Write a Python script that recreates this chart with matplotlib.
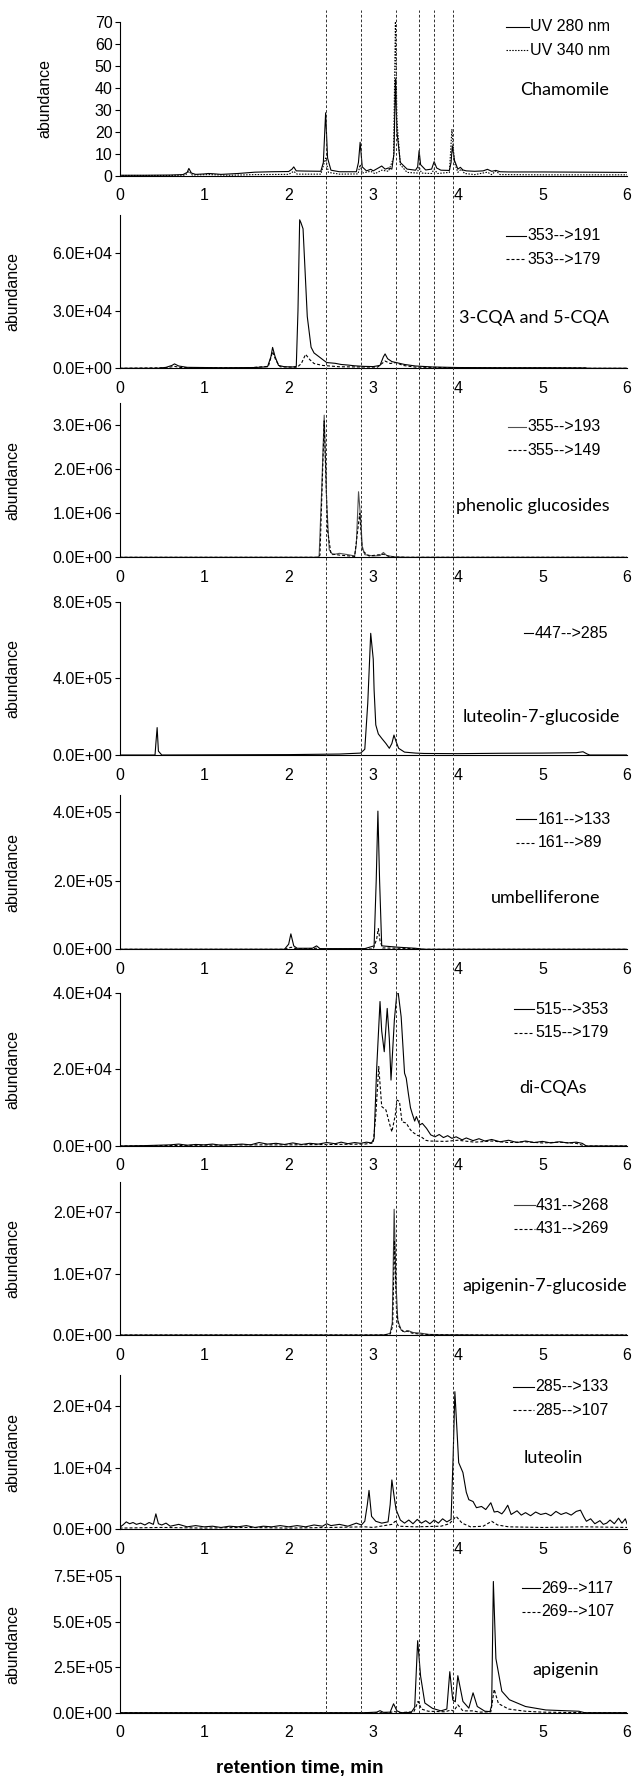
import matplotlib
matplotlib.use("Agg")
import matplotlib.pyplot as plt
from matplotlib.ticker import FuncFormatter

plt.rcParams["font.family"] = ["Liberation Sans", "DejaVu Sans"]
plt.rcParams["font.size"] = 11.5

# retention times of the marker lines (min)
marker_times = [2.437, 2.851, 3.265, 3.544, 3.717, 3.939]

# (retention time, abundance)
uv280 = [(0, 0.2), (0.3, 0.2), (0.6, 0.3), (0.75, 0.5), (0.8, 1.5), (0.82, 3.3), (0.85, 1.2),
         (0.9, 0.6), (1.0, 0.8), (1.05, 1.0), (1.1, 0.9), (1.2, 0.6), (1.4, 1.0), (1.6, 1.6),
         (1.8, 1.8), (2.0, 1.9), (2.04, 3.0), (2.06, 4.0), (2.09, 2.2), (2.2, 2.1), (2.38, 2.0),
         (2.41, 6), (2.437, 28.6), (2.46, 8), (2.5, 2.5), (2.6, 1.8), (2.8, 1.8), (2.825, 6),
         (2.845, 15.2), (2.87, 4), (2.92, 2.2), (2.97, 2.9), (3.0, 2.2), (3.06, 3.5), (3.1, 4.4),
         (3.14, 3.0), (3.18, 3.5), (3.22, 3.0), (3.245, 10), (3.262, 44), (3.28, 20), (3.32, 6),
         (3.4, 3.0), (3.5, 2.5), (3.525, 4), (3.542, 11.4), (3.56, 5), (3.62, 2.6), (3.69, 3),
         (3.72, 6.4), (3.75, 3.5), (3.8, 2.5), (3.9, 2.4), (3.92, 6), (3.935, 13.6), (3.96, 7),
         (4.0, 3), (4.03, 3.8), (4.06, 2.6), (4.1, 2.2), (4.2, 2.0), (4.3, 2.2), (4.35, 2.9),
         (4.4, 2.0), (4.45, 2.4), (4.5, 1.8), (4.6, 1.7), (5.0, 1.7), (5.5, 1.6), (6.0, 1.5)]
uv340 = [(0, 0.1), (0.6, 0.1), (0.78, 0.3), (0.82, 2.0), (0.86, 0.3), (1.05, 0.5), (1.3, 0.2),
         (1.6, 0.5), (2.0, 0.6), (2.06, 2.0), (2.1, 0.7), (2.38, 0.7), (2.437, 8), (2.47, 1.5),
         (2.6, 0.7), (2.82, 0.8), (2.845, 5), (2.87, 1.2), (2.97, 2.0), (3.02, 0.9), (3.1, 2.5),
         (3.18, 2.0), (3.24, 8), (3.262, 70), (3.28, 25), (3.32, 5), (3.4, 1.5), (3.52, 1.2),
         (3.542, 4), (3.57, 1.2), (3.69, 1.0), (3.72, 3.0), (3.76, 1.0), (3.9, 1.5), (3.93, 21),
         (3.96, 6), (4.0, 1.5), (4.04, 3), (4.08, 1.0), (4.2, 0.5), (4.35, 1.6), (4.4, 0.5),
         (4.45, 2.2), (4.5, 0.5), (5.0, 0.4), (6.0, 0.4)]

cqa_191 = [(0, 0), (0.45, 0), (0.55, 500), (0.62, 1500), (0.65, 2300), (0.7, 1200), (0.8, 500),
           (1.2, 300), (1.6, 400), (1.75, 800), (1.79, 6000), (1.81, 10900), (1.84, 6000),
           (1.88, 1500), (1.95, 800), (2.05, 700), (2.09, 1000), (2.11, 30000), (2.13, 77500),
           (2.145, 76000), (2.17, 72800), (2.22, 27000), (2.265, 11000), (2.3, 8000), (2.36, 6000),
           (2.41, 4300), (2.45, 3000), (2.55, 2600), (2.62, 2000), (2.7, 1700), (2.78, 1300),
           (2.89, 1000), (3.0, 900), (3.08, 1500), (3.12, 6000), (3.14, 7500), (3.17, 5000),
           (3.22, 3500), (3.27, 3000), (3.37, 2000), (3.5, 1200), (3.7, 700), (4.0, 400),
           (4.5, 300), (5.0, 300), (5.5, 200), (5.55, 0), (6, 0)]
cqa_179 = [(0, 0), (0.55, 300), (0.65, 1000), (0.72, 400), (1.5, 200), (1.76, 1000), (1.81, 8700),
           (1.85, 4000), (1.9, 800), (2.1, 500), (2.15, 2500), (2.2, 7300), (2.25, 4500),
           (2.3, 2500), (2.4, 1500), (2.6, 800), (3.05, 600), (3.14, 3800), (3.2, 2500),
           (3.27, 3000), (3.35, 1500), (3.5, 600), (4.0, 300), (5.5, 200), (5.55, 0), (6, 0)]

glc_193 = [(0, 0), (2.33, 0), (2.36, 20000), (2.39, 1500000), (2.42, 3230000), (2.45, 1200000),
           (2.48, 170000), (2.52, 60000), (2.6, 90000), (2.7, 60000), (2.78, 30000),
           (2.8, 300000), (2.826, 1490000), (2.85, 900000), (2.87, 250000), (2.9, 60000),
           (3.0, 30000), (3.08, 40000), (3.12, 110000), (3.16, 40000), (3.25, 10000), (3.4, 0),
           (6, 0)]
glc_149 = [(0, 0), (2.34, 0), (2.37, 50000), (2.42, 3100000), (2.46, 600000), (2.5, 80000),
           (2.6, 50000), (2.78, 20000), (2.84, 1000000), (2.87, 150000), (2.95, 30000),
           (3.12, 70000), (3.2, 10000), (3.4, 0), (6, 0)]

lut7g_285 = [(0, 0), (0.42, 0), (0.43, 60000), (0.445, 143000), (0.46, 20000), (0.5, 0),
             (2.0, 2000), (2.6, 5000), (2.85, 10000), (2.9, 30000), (2.935, 270000),
             (2.97, 635000), (3.0, 500000), (3.01, 340000), (3.03, 157000), (3.06, 110000),
             (3.10, 87000), (3.15, 60000), (3.19, 35000), (3.22, 60000), (3.245, 104000),
             (3.27, 70000), (3.3, 35000), (3.37, 15000), (3.5, 10000), (3.6, 8000), (4.0, 7000),
             (4.5, 9000), (5.0, 10000), (5.4, 12000), (5.48, 17000), (5.53, 5000), (5.56, 0),
             (6, 0)]

umb_133 = [(0, 0), (1.95, 0), (2.0, 15000), (2.026, 45000), (2.06, 10000), (2.1, 3000),
           (2.28, 3000), (2.33, 10000), (2.37, 2000), (2.9, 2000), (3.01, 10000),
           (3.035, 200000), (3.055, 403000), (3.075, 200000), (3.10, 10000), (3.2, 8000),
           (3.3, 6000), (3.5, 3000), (3.6, 0), (6, 0)]
umb_89 = [(0, 0), (1.95, 0), (2.03, 6000), (2.1, 1000), (2.33, 3000), (2.4, 0), (3.0, 1000),
          (3.04, 30000), (3.06, 60000), (3.08, 25000), (3.11, 4000), (3.3, 3000), (3.5, 2000),
          (3.6, 0), (6, 0)]

dicqa_353 = [(0, 0), (0.3, 100), (0.45, 200), (0.6, 300), (0.7, 500), (0.8, 200), (0.9, 400),
             (1.0, 300), (1.1, 500), (1.2, 200), (1.3, 300), (1.45, 500), (1.55, 300),
             (1.65, 900), (1.75, 500), (1.85, 700), (1.95, 400), (2.05, 800), (2.15, 400),
             (2.25, 700), (2.35, 500), (2.45, 900), (2.55, 600), (2.62, 1000), (2.7, 600),
             (2.78, 900), (2.85, 700), (2.92, 1000), (2.98, 800), (3.01, 2000), (3.04, 20000),
             (3.08, 37700), (3.1, 30000), (3.13, 24600), (3.165, 35900), (3.19, 28000),
             (3.21, 17200), (3.25, 33000), (3.28, 40000), (3.295, 40000), (3.33, 33700),
             (3.37, 19000), (3.39, 17700), (3.415, 13700), (3.44, 10000), (3.46, 8500),
             (3.49, 6500), (3.51, 7700), (3.55, 5500), (3.58, 5900), (3.63, 4600), (3.68, 2900),
             (3.73, 2400), (3.78, 3000), (3.83, 2200), (3.88, 2700), (3.93, 2000), (3.98, 2400),
             (4.05, 1600), (4.1, 2100), (4.18, 1400), (4.25, 1900), (4.32, 1300), (4.4, 1700),
             (4.5, 1100), (4.6, 1500), (4.7, 900), (4.8, 1300), (4.9, 900), (5.0, 1200),
             (5.1, 800), (5.2, 1100), (5.3, 800), (5.4, 1000), (5.47, 700), (5.52, 0), (6, 0)]
dicqa_179 = [(0, 0), (0.5, 100), (1.0, 200), (1.6, 300), (2.0, 300), (2.5, 400), (2.9, 500),
             (3.0, 800), (3.03, 8000), (3.065, 20700), (3.10, 10300), (3.15, 9400), (3.19, 6000),
             (3.22, 3700), (3.26, 8000), (3.28, 12000), (3.31, 11600), (3.34, 6300), (3.39, 6000),
             (3.43, 4500), (3.46, 3700), (3.52, 2800), (3.56, 2500), (3.62, 1500), (3.66, 1300),
             (3.85, 1200), (4.0, 1500), (4.2, 1000), (4.4, 1300), (4.6, 900), (4.8, 1100),
             (5.0, 800), (5.2, 1000), (5.4, 700), (5.5, 0), (6, 0)]

api7g_268 = [(0, 0), (2.4, 20000), (2.6, 0), (3.05, 10000), (3.15, 50000), (3.2, 300000),
             (3.225, 2000000), (3.247, 20500000), (3.27, 8000000), (3.29, 2400000),
             (3.33, 800000), (3.37, 500000), (3.415, 700000), (3.47, 400000), (3.56, 300000),
             (3.65, 100000), (3.8, 50000), (4.0, 50000), (4.3, 0), (6, 0)]
api7g_269 = [(0, 0), (3.1, 10000), (3.2, 150000), (3.23, 1500000), (3.25, 15400000),
             (3.275, 4000000), (3.3, 1500000), (3.35, 600000), (3.4, 650000), (3.46, 300000),
             (3.55, 150000), (3.7, 50000), (4.0, 0), (6, 0)]

lut_133 = [(0, 300), (0.04, 700), (0.08, 1200), (0.12, 900), (0.16, 1100), (0.2, 800),
           (0.25, 1000), (0.3, 700), (0.35, 1100), (0.4, 800), (0.43, 2500), (0.46, 900),
           (0.5, 700), (0.55, 1000), (0.6, 500), (0.7, 800), (0.8, 400), (0.9, 600), (1.0, 400),
           (1.1, 500), (1.2, 300), (1.3, 500), (1.4, 400), (1.5, 600), (1.6, 300), (1.7, 500),
           (1.8, 400), (1.9, 600), (2.0, 400), (2.1, 600), (2.2, 400), (2.3, 700), (2.4, 500),
           (2.45, 900), (2.5, 600), (2.6, 800), (2.7, 500), (2.8, 1000), (2.86, 700),
           (2.9, 1300), (2.93, 4000), (2.95, 6300), (2.98, 2100), (3.03, 1300), (3.1, 1000),
           (3.175, 1200), (3.2, 4000), (3.22, 8000), (3.25, 5000), (3.27, 3200), (3.32, 1500),
           (3.37, 1000), (3.42, 1500), (3.47, 900), (3.52, 1600), (3.57, 1000), (3.62, 1400),
           (3.67, 900), (3.72, 1500), (3.77, 1000), (3.82, 1700), (3.87, 1200), (3.92, 1600),
           (3.945, 12000), (3.965, 22300), (3.99, 16000), (4.01, 10800), (4.06, 9200),
           (4.1, 6000), (4.13, 4800), (4.18, 4500), (4.22, 3500), (4.28, 3700), (4.33, 3200),
           (4.39, 4300), (4.43, 2800), (4.47, 2900), (4.52, 2500), (4.55, 3000), (4.59, 3900),
           (4.63, 2400), (4.7, 3000), (4.75, 2300), (4.8, 2700), (4.86, 2200), (4.92, 2800),
           (4.98, 2400), (5.04, 2600), (5.1, 2200), (5.16, 2900), (5.22, 2400), (5.28, 2700),
           (5.34, 2300), (5.4, 2900), (5.45, 3100), (5.49, 2000), (5.52, 1300), (5.57, 1700),
           (5.62, 900), (5.68, 1400), (5.72, 800), (5.76, 1000), (5.8, 1500), (5.85, 900),
           (5.9, 1800), (5.94, 1000), (5.98, 1700), (6.0, 900)]
lut_107 = [(0, 200), (0.5, 300), (1.0, 200), (1.5, 300), (2.0, 200), (2.5, 300), (2.9, 400),
           (3.0, 300), (3.22, 800), (3.26, 1300), (3.3, 500), (3.5, 400), (3.8, 500), (3.9, 900),
           (3.98, 2100), (4.05, 1000), (4.15, 400), (4.3, 500), (4.4, 1300), (4.47, 700),
           (4.6, 400), (5.0, 300), (5.5, 400), (6.0, 300)]

api_117 = [(0, 0), (2.9, 0), (3.04, 3000), (3.08, 11000), (3.12, 2000), (3.2, 3000),
           (3.24, 49000), (3.28, 10000), (3.33, 0), (3.45, 2000), (3.49, 30000), (3.525, 395000),
           (3.56, 200000), (3.61, 53000), (3.7, 24000), (3.8, 10000), (3.87, 20000),
           (3.905, 225000), (3.94, 70000), (3.97, 60000), (4.0, 203000), (4.06, 62000),
           (4.13, 25000), (4.18, 109000), (4.23, 34000), (4.32, 8000), (4.38, 6000),
           (4.4, 40000), (4.42, 720000), (4.45, 297000), (4.52, 118000), (4.61, 71000),
           (4.8, 34000), (5.04, 15000), (5.43, 8000), (5.5, 0), (6, 0)]
api_107 = [(0, 0), (3.2, 0), (3.24, 8000), (3.3, 0), (3.48, 5000), (3.53, 62000), (3.57, 20000),
           (3.65, 8000), (3.85, 5000), (3.92, 15000), (3.95, 8000), (4.0, 43000), (4.06, 10000),
           (4.18, 10000), (4.25, 3000), (4.39, 5000), (4.43, 128000), (4.48, 50000),
           (4.6, 20000), (4.8, 8000), (5.0, 3000), (5.5, 0), (6, 0)]

compounds = ["Chamomile", "3-CQA and 5-CQA", "phenolic glucosides", "luteolin-7-glucoside",
             "umbelliferone", "di-CQAs", "apigenin-7-glucoside", "luteolin", "apigenin"]
series = [
    [("UV 280 nm", uv280), ("UV 340 nm", uv340)],
    [("353-->191", cqa_191), ("353-->179", cqa_179)],
    [("355-->193", glc_193), ("355-->149", glc_149)],
    [("447-->285", lut7g_285)],
    [("161-->133", umb_133), ("161-->89", umb_89)],
    [("515-->353", dicqa_353), ("515-->179", dicqa_179)],
    [("431-->268", api7g_268), ("431-->269", api7g_269)],
    [("285-->133", lut_133), ("285-->107", lut_107)],
    [("269-->117", api_117), ("269-->107", api_107)],
]
y_max = [70, 8e4, 3.5e6, 8e5, 4.5e5, 4e4, 2.5e7, 2.5e4, 7.5e5]
y_ticks = [[0, 10, 20, 30, 40, 50, 60, 70], [0, 3e4, 6e4], [0, 1e6, 2e6, 3e6], [0, 4e5, 8e5],
           [0, 2e5, 4e5], [0, 2e4, 4e4], [0, 1e7, 2e7], [0, 1e4, 2e4],
           [0, 2.5e5, 5e5, 7.5e5]]

# layout (pixels of the 634 x 1780 figure)
W, H = 634, 1780
x_left, x_right = 119.5, 627
boxes = [(21.7, 175.7), (215, 368.3), (403.3, 557.3), (601.7, 755), (795, 949.3),
         (992.7, 1146), (1181.7, 1335), (1375, 1529.3), (1576, 1712.7)]
# legend: first row y, key start x, key end x (pixels)
legend_px = [(26.7, 505.7, 529), (235.7, 505.5, 525.7), (426.7, 507.5, 525.7),
             (633.3, 524, 533), (819, 515.6, 535.9), (1009.3, 513.6, 533.8),
             (1205, 513.6, 534.6), (1386.7, 512.8, 533.8), (1588.3, 521.7, 539.9)]
row_pitch = 23.5
label_px = [(564.5, 90), (533.7, 317.7), (532.5, 506), (541, 716.7), (546, 898.3),
            (553, 1088.3), (545, 1286), (552.8, 1457.7), (566, 1670)]
solid_colors = ["black", "black", "#505050", "black", "black", "black", "#404040", "black", "black"]


def fx(px):
    return (px - x_left) / (x_right - x_left)


fig = plt.figure(figsize=(W / 100, H / 100), dpi=100)

for i, (top, bot) in enumerate(boxes):
    ax = fig.add_axes([x_left / W, 1 - bot / H, (x_right - x_left) / W, (bot - top) / H])

    def fy(py):
        return (bot - py) / (bot - top)

    y0, k0, k1 = legend_px[i]
    for j, (name, pts) in enumerate(series[i]):
        t, y = zip(*pts)
        if j == 0:
            style = dict(color=solid_colors[i], lw=0.8)
        elif i == 0:
            style = dict(color="black", lw=0.8, ls=(0, (1.3, 1.3)))
        else:
            style = dict(color="black", lw=0.8, ls=(0, (2.7, 1.8)))
        ax.plot(t, y, **style)
        # legend key and entry
        ry = fy(y0 + j * row_pitch)
        ax.plot([fx(k0), fx(k1)], [ry, ry], transform=ax.transAxes, clip_on=False, **style)
        ax.text(fx(k1 + 1.5), ry, name, transform=ax.transAxes, ha="left", va="center",
                fontsize=11.5)

    ax.set_xlim(0, 6)
    ax.set_ylim(0, y_max[i])
    ax.set_xticks(range(7))
    ax.set_yticks(y_ticks[i])
    if i > 0:
        ax.yaxis.set_major_formatter(FuncFormatter(lambda v, p: f"{v:.1E}"))
    ax.tick_params(axis="x", length=0, pad=9, labelsize=11.5)
    ax.tick_params(axis="y", length=3.5, width=0.8, pad=1.5, labelsize=11.5)
    for s in ["top", "right"]:
        ax.spines[s].set_visible(False)
    for s in ["left", "bottom"]:
        ax.spines[s].set_linewidth(0.8)
    ax.set_ylabel("abundance", fontsize=11.5)
    ax.yaxis.set_label_coords(-0.132 if i == 0 else -0.196, 0.5)

    lx, ly = label_px[i]
    ax.text(fx(lx), fy(ly), compounds[i], transform=ax.transAxes,
            ha="center", va="center", fontfamily="Lato", fontsize=13)

# dashed marker lines running through all panels
ov = fig.add_axes([x_left / W, 1 - 1712.7 / H, (x_right - x_left) / W, (1712.7 - 10) / H])
ov.set_xlim(0, 6)
ov.set_ylim(0, 1)
ov.axis("off")
for t in marker_times:
    ov.axvline(t, color="#303030", lw=0.7, ls=(0, (2.8, 2.1)))

fig.text(300 / W, 1 - 1768 / H, "retention time, min", ha="center", va="center",
         fontweight="bold", fontsize=13.5)

fig.savefig("out.png", dpi=100)
